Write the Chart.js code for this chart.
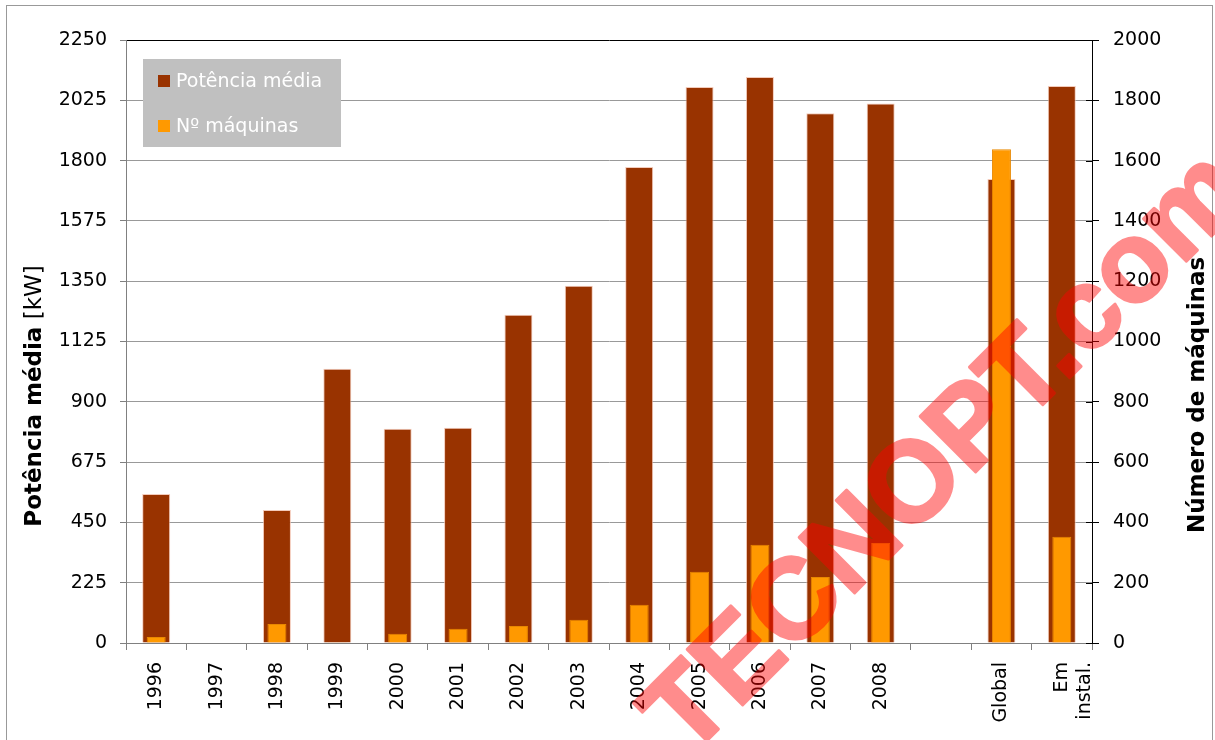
<!DOCTYPE html>
<html><head><meta charset="utf-8">
<script src="https://cdn.jsdelivr.net/npm/chart.js@4/dist/chart.umd.min.js"></script>
<style>html,body{margin:0;padding:0;background:#fff;} canvas{display:block;}</style>
</head><body>
<canvas id="c" width="1215" height="740"></canvas>
<script>
// ---- data ----
const categories = ['1996','1997','1998','1999','2000','2001','2002','2003','2004','2005','2006','2007','2008','','Global',['Em','instal.']];
const potenciaMedia = [556,null,496,1023,799,803,1225,1333,1776,2075,2112,1977,2013,null,1731,2078];
const numMaquinas   = [20,null,63,1,31,47,56,77,127,236,326,219,332,null,1638,352];
const leftTicks  = [0,225,450,675,900,1125,1350,1575,1800,2025,2250];
const rightTicks = [0,200,400,600,800,1000,1200,1400,1600,1800,2000];
const seriesNames = ['Potência média','Nº máquinas'];
const leftTitleBold = 'Potência média';
const leftTitleUnit = ' [kW]';
const rightTitle = 'Número de máquinas';
const watermark = 'TECNOPT.com';

const BROWN = '#993300', ORANGE = '#FF9900';
const FONT = '"DejaVu Sans", Verdana, sans-serif';
const tickFont = {family: FONT, size: 19};

const extras = {
  id: 'extras',
  afterDraw(chart) {
    const ctx = chart.ctx, ca = chart.chartArea;
    ctx.save();
    // inner half of right-axis ticks
    const y1 = chart.scales.y1;
    ctx.strokeStyle = '#000'; ctx.lineWidth = 1;
    y1.ticks.forEach(t => {
      const py = Math.round(y1.getPixelForValue(t.value)) + 0.5;
      ctx.beginPath(); ctx.moveTo(ca.right - 6, py); ctx.lineTo(ca.right, py); ctx.stroke();
    });
    // legend
    ctx.fillStyle = '#c0c0c0';
    ctx.fillRect(143, 59, 198, 88);
    const items = [[BROWN, seriesNames[0], 81], [ORANGE, seriesNames[1], 126]];
    ctx.font = '19px ' + FONT; ctx.textBaseline = 'middle'; ctx.textAlign = 'left';
    items.forEach(([c, t, y]) => {
      ctx.fillStyle = c; ctx.fillRect(158, y - 6, 12, 12);
      ctx.fillStyle = '#fff'; ctx.fillText(t, 176, y + 1);
    });
    // left axis title
    ctx.save();
    ctx.translate(41, 396); ctx.rotate(-Math.PI / 2);
    ctx.fillStyle = '#000'; ctx.textBaseline = 'alphabetic';
    ctx.font = 'bold 23px ' + FONT;
    const wb = ctx.measureText(leftTitleBold).width;
    ctx.font = '23px ' + FONT;
    const wu = ctx.measureText(leftTitleUnit).width;
    let x0 = -(wb + wu) / 2;
    ctx.font = 'bold 23px ' + FONT; ctx.fillText(leftTitleBold, x0, 0);
    ctx.font = '23px ' + FONT; ctx.fillText(leftTitleUnit, x0 + wb, 0);
    ctx.restore();
    // right axis title
    ctx.save();
    ctx.translate(1204, 395); ctx.rotate(-Math.PI / 2);
    ctx.fillStyle = '#000'; ctx.textAlign = 'center'; ctx.textBaseline = 'alphabetic';
    ctx.font = 'bold 23px ' + FONT; ctx.fillText(rightTitle, 0, 0);
    ctx.restore();
    // outer frame
    ctx.strokeStyle = '#999'; ctx.lineWidth = 1;
    ctx.strokeRect(6.5, 5.5, 1206, 800);
    // watermark (drawn opaque offscreen, then composited with alpha)
    const off = document.createElement('canvas');
    off.width = chart.width; off.height = chart.height;
    const o = off.getContext('2d');
    o.translate(948, 455); o.rotate(-45 * Math.PI / 180);
    o.fillStyle = '#ff0000'; o.strokeStyle = '#ff0000'; o.lineWidth = 3; o.lineJoin = 'round';
    o.font = 'bold 114px "Liberation Sans", Arial, sans-serif';
    o.textAlign = 'center'; o.textBaseline = 'middle';
    o.fillText(watermark, 0, 0);
    o.strokeText(watermark, 0, 0);
    ctx.globalAlpha = 0.45;
    ctx.drawImage(off, 0, 0);
    ctx.restore();
  }
};

new Chart(document.getElementById('c'), {
  type: 'bar',
  data: {
    labels: categories,
    datasets: [
      { label: seriesNames[0], data: potenciaMedia, yAxisID: 'y', backgroundColor: BROWN,
        borderColor: 'rgba(240,190,170,0.8)', borderWidth: 1, grouped: false, order: 2,
        barPercentage: 0.464, categoryPercentage: 1 },
      { label: seriesNames[1], data: numMaquinas, yAxisID: 'y1', backgroundColor: ORANGE,
        borderColor: '#e88800', borderWidth: 1, grouped: false, order: 1,
        barPercentage: 0.315, categoryPercentage: 1 }
    ]
  },
  options: {
    responsive: false, animation: false,
    layout: {padding: {top: 40, left: 0, right: 0, bottom: 0}},
    plugins: {legend: {display: false}, tooltip: {enabled: false}},
    scales: {
      x: {
        offset: true,
        grid: {display: true, drawOnChartArea: false, offset: true, tickLength: 7, color: '#808080'},
        border: {color: '#808080'},
        ticks: {font: tickFont, color: '#000', minRotation: 90, maxRotation: 90, padding: 12, autoSkip: false},
        afterFit: s => { s.height = 97; }
      },
      y: {
        position: 'left', min: 0, max: 2250,
        afterBuildTicks: s => { s.ticks = leftTicks.map(v => ({value: v})); },
        grid: {color: c => (c.tick && c.tick.value === 2250) ? '#000' : '#999999', tickLength: 6, tickColor: '#808080'},
        border: {color: '#808080'},
        ticks: {font: tickFont, color: '#000', padding: 13, callback: v => String(v)},
        afterFit: s => { s.width = 126; }
      },
      y1: {
        position: 'right', min: 0, max: 2000,
        afterBuildTicks: s => { s.ticks = rightTicks.map(v => ({value: v})); },
        grid: {drawOnChartArea: false, tickLength: 7, color: '#000'},
        border: {color: '#000'},
        ticks: {font: tickFont, color: '#000', padding: 14, callback: v => String(v)},
        afterFit: s => { s.width = 123; }
      }
    }
  },
  plugins: [extras]
});
</script>
</body></html>
